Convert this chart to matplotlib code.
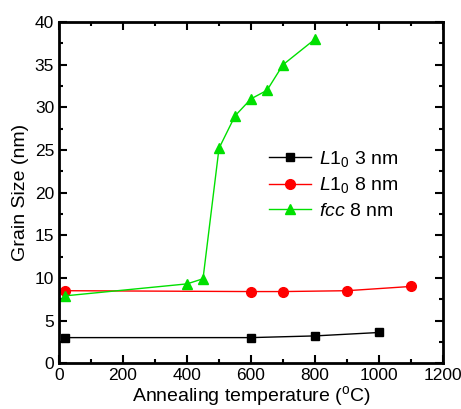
import matplotlib
matplotlib.use('Agg')
import matplotlib.pyplot as plt
from matplotlib.ticker import MultipleLocator

plt.rcParams['font.family'] = ['Liberation Sans', 'DejaVu Sans']
plt.rcParams['mathtext.fontset'] = 'custom'
plt.rcParams['mathtext.rm'] = 'Liberation Sans'
plt.rcParams['mathtext.it'] = 'Liberation Sans:italic'

# data
t_l10_3 = [20, 600, 800, 1000]
d_l10_3 = [3.0, 3.0, 3.2, 3.6]

t_l10_8 = [20, 600, 700, 900, 1100]
d_l10_8 = [8.5, 8.4, 8.4, 8.5, 9.0]

t_fcc = [20, 400, 450, 500, 550, 600, 650, 700, 800]
d_fcc = [7.9, 9.3, 9.9, 25.2, 29.0, 31.0, 32.0, 35.0, 38.0]

fig = plt.figure(figsize=(4.61, 4.09), dpi=100)
ax = fig.add_axes([0.128, 0.112, 0.833, 0.834])

ax.plot(t_l10_3, d_l10_3, '-s', color='k', lw=1, ms=6, label=r'$\mathit{L}1_0$ 3 nm')
ax.plot(t_l10_8, d_l10_8, '-o', color='#ff0000', lw=1, ms=7, label=r'$\mathit{L}1_0$ 8 nm')
ax.plot(t_fcc, d_fcc, '-^', color='#00e000', lw=1, ms=7, label=r'$\mathit{fcc}$ 8 nm')

ax.set_xlim(0, 1200)
ax.set_ylim(0, 40)
ax.xaxis.set_major_locator(MultipleLocator(200))
ax.xaxis.set_minor_locator(MultipleLocator(100))
ax.yaxis.set_major_locator(MultipleLocator(5))
ax.yaxis.set_minor_locator(MultipleLocator(2.5))
ax.tick_params(which='both', direction='in', top=True, right=True, labelsize=12.5, width=1.5)
ax.tick_params(which='major', length=6)
ax.tick_params(which='minor', length=3)
for s in ax.spines.values():
    s.set_linewidth(2)

ax.set_xlabel('Annealing temperature ($^\\mathregular{o}$C)', fontsize=14, labelpad=1)
ax.set_ylabel('Grain Size (nm)', fontsize=14, labelpad=4)

ax.legend(loc='center right', bbox_to_anchor=(0.93, 0.525), frameon=False, fontsize=14,
          handlelength=2.2, labelspacing=0.35, handletextpad=0.4)

fig.savefig('out.png', dpi=100)
